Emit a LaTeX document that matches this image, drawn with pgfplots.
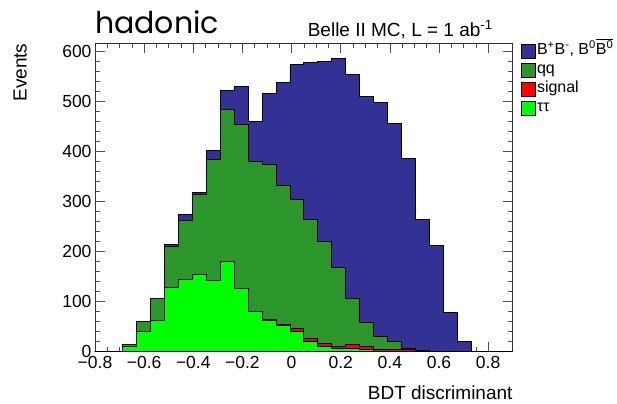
\documentclass[border=0pt]{standalone}
\usepackage{pgfplots}
\pgfplotsset{compat=1.18}
\usepackage{pgfplotstable}
\usepackage{fontspec}
\setmainfont{Liberation Sans}
\newfontfamily\titlefont{Poppins}
\usetikzlibrary{calc}

\definecolor{bbblue}{RGB}{51,49,148}
\definecolor{qqgreen}{RGB}{44,150,44}
\definecolor{sigred}{RGB}{255,0,0}
\definecolor{ttlime}{RGB}{0,255,0}

% bin left edges (30 bins from -0.8 to 0.9), last row = right edge
\pgfplotstableread{
x        bb   qq   sig  tt
-0.8     0    0    0    0
-0.74333 0    0    0    0
-0.68667 0    4    0    11
-0.63    0    19   0    41
-0.57333 1    44   0    62
-0.51667 4    82   0    129
-0.46    13   117  0    145
-0.40333 4    160  0    155
-0.34667 18   242  0    143
-0.29    38   304  0    181
-0.23333 76   328  1    126
-0.17667 81   299  1    80
-0.12    142  311  1    63
-0.06333 206  277  2    53
-0.00667 270  259  5    41
0.05     314  238  7    20
0.10667  359  204  6    11
0.16333  419  157  4    7
0.22     448  93   7    7
0.27667  453  47   6    5
0.33333  469  25   4    1
0.39     437  16   4    0
0.44667  380  2    5    0
0.50333  262  0    3    0
0.56     211  0    1    0
0.61667  79   0    0    0
0.67333  21   0    0    0
0.73     1    0    0    0
0.78667  0    0    0    0
0.84333  0    0    0    0
0.9      0    0    0    0
}\hist

\begin{document}
\begin{tikzpicture}
\begin{axis}[
  name=ax,
  scale only axis,
  width=417.7bp, height=308.4bp,
  xmin=-0.8, xmax=0.9, ymin=0, ymax=617,
  xtick={-0.8,-0.6,-0.4,-0.2,0,0.2,0.4,0.6,0.8},
  xticklabels={−0.8,−0.6,−0.4,−0.2,0,0.2,0.4,0.6,0.8},
  ytick={0,100,200,300,400,500,600},
  minor x tick num=3, minor y tick num=4,
  tick align=inside,
  major tick length=10bp, minor tick length=5bp,
  axis line style={black!80, line width=0.8bp},
  every tick/.style={black!70, line width=0.6bp},
  ticklabel style={font=\fontsize{17.5bp}{20bp}\selectfont},
  xticklabel style={yshift=-1.5bp},
  /pgf/number format/assume math mode=true,
  xlabel={BDT discriminant},
  ylabel={Events},
  label style={font=\fontsize{19bp}{22bp}\selectfont, inner sep=0pt},
  xlabel style={at={(rel axis cs:1,-0.1534)}, anchor=base east},
  ylabel style={at={(rel axis cs:-0.163,1)}, anchor=south east},
  legend style={at={(rel axis cs:1,1)}, anchor=north west, xshift=8bp, yshift=2bp,
    draw=none, fill=none, inner sep=0pt, row sep=0pt,
    font=\fontsize{16bp}{18bp}\selectfont,
    nodes={text height=12bp, text depth=4bp, inner sep=1.5bp}},
  legend cell align=left,
  legend image code/.code={\draw[#1, draw=black, line width=0.6bp] (0bp,-7bp) rectangle (14bp,7bp);},
]
\addplot[const plot, fill=bbblue, draw=black, line width=0.8bp]
  table[x=x, y expr=\thisrow{bb}+\thisrow{qq}+\thisrow{sig}+\thisrow{tt}] {\hist} \closedcycle;
\addlegendentry{B\textsuperscript{+}B\textsuperscript{-}, B\textsuperscript{0}$\overline{\mbox{B\textsuperscript{0}}}$}
\addplot[const plot, fill=qqgreen, draw=black, line width=0.8bp]
  table[x=x, y expr=\thisrow{qq}+\thisrow{sig}+\thisrow{tt}] {\hist} \closedcycle;
\addlegendentry{qq}
\addplot[const plot, fill=sigred, draw=black, line width=0.8bp]
  table[x=x, y expr=\thisrow{sig}+\thisrow{tt}] {\hist} \closedcycle;
\addlegendentry{signal}
\addplot[const plot, fill=ttlime, draw=black, line width=0.8bp]
  table[x=x, y=tt] {\hist} \closedcycle;
\addlegendentry{ττ}
\end{axis}
\node[anchor=base west, inner sep=0pt, font=\titlefont\fontsize{30bp}{34bp}\selectfont]
  at ($(ax.north west)+(0bp,10bp)$) {hadonic};
\node[anchor=base east, inner sep=0pt, font=\fontsize{19bp}{22bp}\selectfont]
  at ($(ax.north west)+(398bp,6.6bp)$) {Belle II MC, L = 1 ab\textsuperscript{-1}};
\pgfresetboundingbox
\path ($(ax.south west)+(-95bp,-52.3bp)$) rectangle ++(617bp,404bp);
\end{tikzpicture}
\end{document}
